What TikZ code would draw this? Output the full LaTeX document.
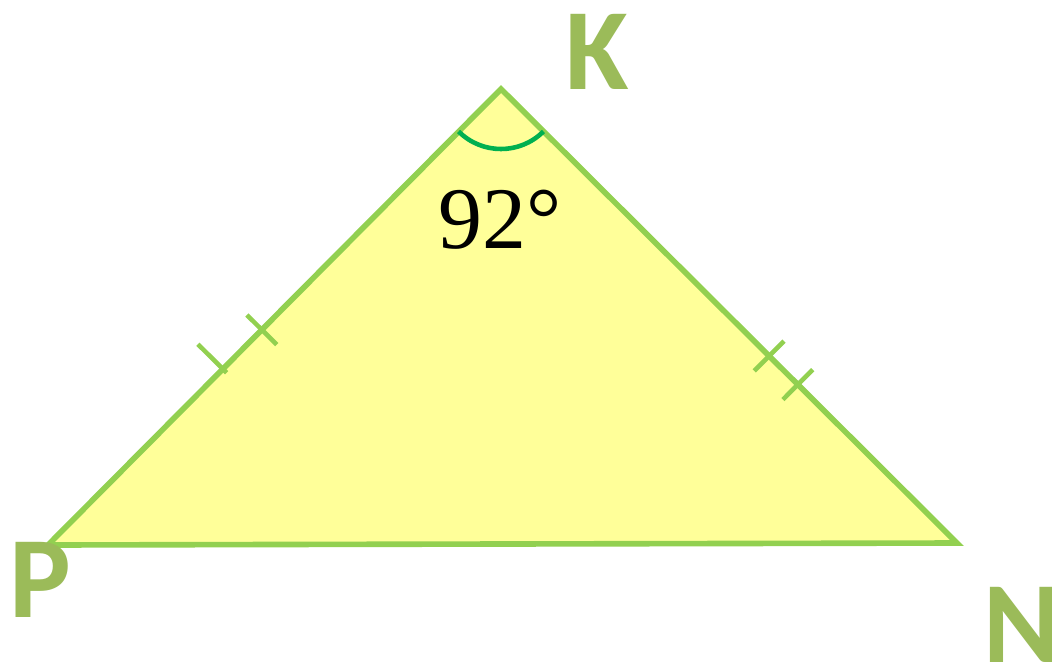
\documentclass[tikz,border=0pt]{standalone}
\usepackage{fontspec}
\setmainfont{Liberation Serif}
\setsansfont{Carlito}
\usetikzlibrary{calc}
\definecolor{sidegreen}{HTML}{92D050}
\definecolor{labelgreen}{HTML}{9BBB59}
\definecolor{arcgreen}{HTML}{00B050}
\definecolor{paleyellow}{HTML}{FFFF99}

\begin{document}
\begin{tikzpicture}
 [x=0.02cm, y=-0.02cm,
  side/.style={draw=sidegreen, line width=3.2pt, line join=miter},
  tick mark/.style={draw=sidegreen, line width=2.6pt},
  vertex label/.style={text=labelgreen, font=\sffamily\bfseries\fontsize{66}{66}\selectfont, inner sep=0pt},
  angle label/.style={font=\fontsize{50}{50}\selectfont, inner sep=0pt}]

 \useasboundingbox (0,0) rectangle (1052,664);

 \coordinate (P) at (48,545);
 \coordinate (K) at (501,89);
 \coordinate (N) at (957,543);

 % triangle
 \filldraw[side, fill=paleyellow] (P) -- (K) -- (N) -- cycle;

 % angle at K
 \draw[arcgreen, line width=2.6pt] ($(K)+(135:60)$) arc[start angle=135, end angle=45, radius=60];

 % equal sides PK and KN
 \coordinate (t1) at ($(P)!0.386!(K)$);
 \coordinate (t2) at ($(P)!0.472!(K)$);
 \coordinate (t3) at ($(K)!0.588!(N)$);
 \coordinate (t4) at ($(K)!0.651!(N)$);
 \draw[tick mark] ($(t1)!20pt!90:(K)$) -- ($(t1)!3pt!-90:(K)$);
 \draw[tick mark] ($(t2)!12pt!90:(K)$) -- ($(t2)!12pt!-90:(K)$);
 \draw[tick mark] ($(t3)!12pt!90:(N)$) -- ($(t3)!12pt!-90:(N)$);
 \draw[tick mark] ($(t4)!12pt!90:(N)$) -- ($(t4)!12pt!-90:(N)$);

 \node[vertex label] (k) at (597,52) {K};
 \node[vertex label] (p) at (40,580) {P};
 \node[vertex label] (n) at (1022,625) {N};
 \node[angle label] (angleK) at (500,220) {92°};

\end{tikzpicture}
\end{document}
